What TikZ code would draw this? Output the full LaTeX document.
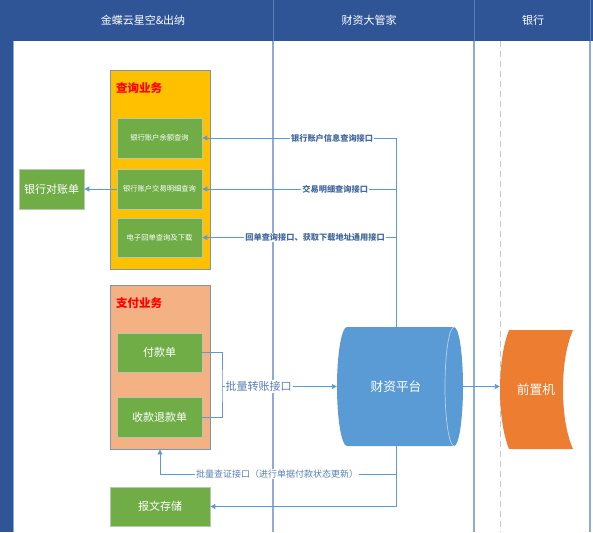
\documentclass[tikz,border=0pt]{standalone}
\usepackage{fontspec}
\setmainfont{Noto Sans CJK SC}
\usetikzlibrary{arrows.meta,shadows}
\definecolor{hdr}{HTML}{2F5597}
\definecolor{hdrline}{HTML}{5A7DB8}
\definecolor{laneline}{HTML}{8EAADB}
\definecolor{connc}{HTML}{5B9BD5}
\definecolor{gboxc}{HTML}{70AD47}
\definecolor{gedge}{HTML}{B7C9AE}
\definecolor{yboxc}{HTML}{FFC000}
\definecolor{sboxc}{HTML}{F4B183}
\definecolor{paneledge}{HTML}{7F93AE}
\definecolor{platc}{HTML}{5B9BD5}
\definecolor{orngc}{HTML}{ED7D31}
\definecolor{lbltxt}{HTML}{44689F}
\definecolor{lbltxtb}{HTML}{5A7FB5}
\definecolor{titred}{HTML}{FF0000}
\begin{document}
\begin{tikzpicture}[x=1pt,y=-1pt,
  htext/.style={text=white,font=\fontsize{11}{13}\selectfont,inner sep=0pt},
  panel/.style={draw=paneledge,line width=0.9pt,inner sep=0pt},
  ptitle/.style={text=titred,font=\fontsize{11.5}{13}\selectfont\bfseries,inner sep=0pt,anchor=west},
  gbox/.style={draw=gedge,fill=gboxc,line width=0.8pt,text=white,inner sep=0pt,align=center,
    drop shadow={opacity=0.2,shadow xshift=1pt,shadow yshift=-1pt}},
  smalltext/.style={font=\fontsize{7.3}{9}\selectfont},
  bigtext/.style={font=\fontsize{11}{13}\selectfont},
  conn/.style={draw=connc,line width=0.9pt},
  arr/.style={conn,-{Triangle[length=5pt,width=5pt]}},
  lbl/.style={fill=white,inner sep=1pt,text=lbltxt,font=\fontsize{8.2}{10}\selectfont\bfseries},
  lblb/.style={fill=white,inner sep=1pt,text=lbltxtb},
  lanel/.style={draw=laneline,line width=1.1pt},
  ghost/.style={inner sep=0pt,text=white,font=\fontsize{12.7}{15}\selectfont}
]
\useasboundingbox (0,0) rectangle (593,532);
% header and left bar
\fill[hdr] (0,0) rectangle (593,41);
\fill[hdr] (0,0) rectangle (13,532);
\draw[hdrline,line width=0.8pt] (273,0) -- (273,41);
\draw[hdrline,line width=0.8pt] (474,0) -- (474,41);
\draw[hdrline,line width=0.8pt] (590,0) -- (590,41);
\node[htext] (h1) at (143,20) {金蝶云星空\&出纳};
\node[htext] (h2) at (369,20) {财资大管家};
\node[htext] (h3) at (533,20) {银行};
% lane lines
\draw[lanel] (273,41) -- (273,532);
\draw[lanel] (474,41) -- (474,532);
\draw[lanel] (590,41) -- (590,532);
\draw[lanel] (13.5,41) -- (13.5,532);
% bank lane dashed line
\draw[gray!45,line width=0.8pt,dash pattern=on 6pt off 4pt] (500.5,41) -- (500.5,532);

% query panel
\node[panel,fill=yboxc,minimum width=100pt,minimum height=199pt] (qpanel) at (160,169.5) {};
\node[ptitle] (qtitle) at (116,88) {查询业务};
\node[gbox,smalltext,minimum width=85pt,minimum height=40pt] (q1) at (159.5,138) {银行账户余额查询};
\node[gbox,smalltext,minimum width=85pt,minimum height=40pt] (q2) at (159.5,189) {银行账户交易明细查询};
\node[gbox,smalltext,minimum width=85pt,minimum height=39pt] (q3) at (159.5,237.5) {电子回单查询及下载};
\node[gbox,bigtext,minimum width=65pt,minimum height=40pt] (recon) at (51.5,189) {银行对账单};

% pay panel
\node[panel,fill=sboxc,minimum width=100pt,minimum height=164pt] (pay) at (160,367) {};
\node[ptitle] (ptit) at (116,303) {支付业务};
\node[gbox,bigtext,minimum width=85pt,minimum height=39pt] (p1) at (159.5,352.5) {付款单};
\node[gbox,bigtext,minimum width=85pt,minimum height=40pt] (p2) at (159.5,417) {收款退款单};
\node[gbox,bigtext,minimum width=100pt,minimum height=39pt] (store) at (160,506.5) {报文存储};

% platform cylinder
\fill[platc] (347,327) -- (454,327) .. controls (459,327) and (463,354) .. (463,386.5)
  .. controls (463,419) and (459,446) .. (454,446) -- (347,446)
  .. controls (341.5,446) and (337,419) .. (337,386.5)
  .. controls (337,354) and (341.5,327) .. (347,327) -- cycle;
\draw[white!55!platc,line width=0.7pt] (454,327) .. controls (449,327) and (445,354) .. (445,386.5)
  .. controls (445,419) and (449,446) .. (454,446);
\node[ghost,minimum width=126pt,minimum height=119pt] (plat) at (400,386.5) {};
\node[ghost] (plattext) at (396,386.5) {财资平台};

% front machine
\fill[orngc] (509,330) -- (573,330) .. controls (566,346) and (563,367) .. (563,389.5)
  .. controls (563,412) and (566,433) .. (573,449) -- (509,449)
  .. controls (503,434) and (500,412) .. (500,389.5)
  .. controls (500,367) and (503,345) .. (509,330) -- cycle;
\node[ghost,minimum width=73pt,minimum height=119pt] (front) at (536.5,389.5) {};
\node[ghost] (fronttext) at (536,389.5) {前置机};

% connectors
\coordinate (ptop) at (396,327);
\coordinate (pbot) at (396,446);
\coordinate (brx) at (222,386.5);
\draw[arr] (ptop) |- node[lbl,pos=0.665] {银行账户信息查询接口} (q1.east);
\draw[arr] (ptop) |- node[lbl,pos=0.657] {交易明细查询接口} (q2.east);
\draw[arr] (ptop) |- node[lbl,pos=0.709] {回单查询接口、获取下载地址通用接口} (q3.east);
\draw[arr] (q2.west) -- (recon.east);
\draw[conn] (p1.east) -| (brx) |- (p2.east);
\draw[arr] (brx) -- node[lblb,font=\fontsize{11}{13}\selectfont,pos=0.32] {批量转账接口} (brx -| plat.west);
\draw[arr] (pbot) -- ++(0,28) -| node[lblb,font=\fontsize{9}{11}\selectfont,pos=0.252] {批量查证接口（进行单据付款状态更新）} (pay.south);
\draw[arr] (pbot) |- (store.east);
\draw[arr] (plat.east) -- (plat.east -| front.west);
\end{tikzpicture}
\end{document}
